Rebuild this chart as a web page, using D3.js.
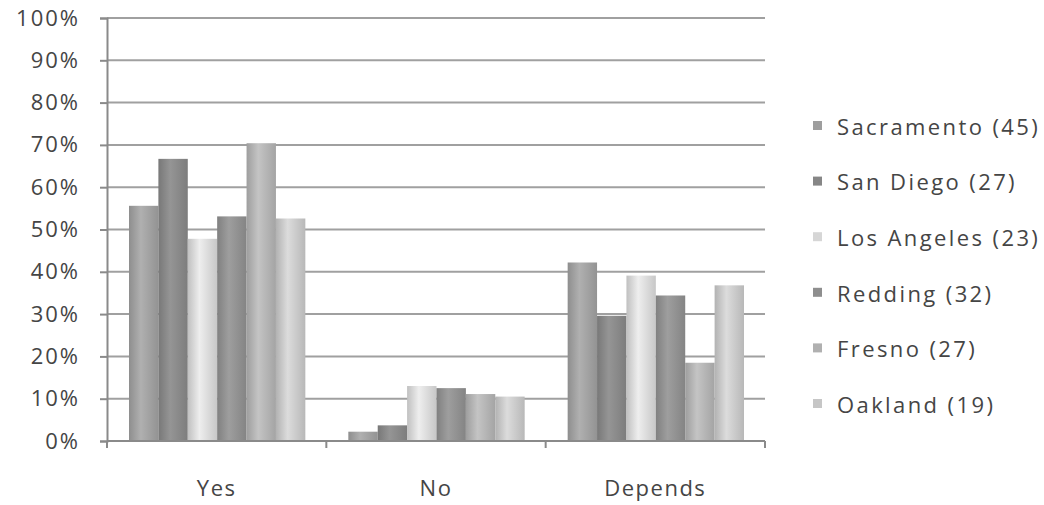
<!DOCTYPE html>
<html><head><meta charset="utf-8">
<script src="https://cdn.jsdelivr.net/npm/d3@7"></script>
<style>body{margin:0;background:#fff}svg{display:block}</style>
</head><body><svg id="c" width="1044" height="505"></svg>
<script>
const categories = ["Yes", "No", "Depends"];
const seriesNames = ["Sacramento (45)", "San Diego (27)", "Los Angeles (23)", "Redding (32)", "Fresno (27)", "Oakland (19)"];
const sacramento = [55.6, 2.2, 42.2];
const sanDiego = [66.7, 3.7, 29.6];
const losAngeles = [47.8, 13.0, 39.1];
const redding = [53.1, 12.5, 34.4];
const fresno = [70.4, 11.1, 18.5];
const oakland = [52.6, 10.5, 36.8];
const seriesValues = [sacramento, sanDiego, losAngeles, redding, fresno, oakland];
const seriesColors = ["#9e9e9e", "#868686", "#d6d6d6", "#8e8e8e", "#b0b0b0", "#c6c6c6"];
const yTicks = [0, 10, 20, 30, 40, 50, 60, 70, 80, 90, 100];

const svg = d3.select("#c");
const L = 107, R = 765, T = 18, B = 441;
const font = "'Open Sans', 'Liberation Sans', sans-serif";
const txt = "#454545";
const fs = 22;

const y = d3.scaleLinear().domain([0, 100]).range([B, T]);
const x0 = d3.scaleBand().domain(categories).range([L, R]).padding(0);
const x1 = d3.scaleBand().domain(seriesNames).range([22, x0.bandwidth() - 21]).padding(0);

const defs = svg.append("defs");
seriesColors.forEach((c, i) => {
  const g = defs.append("linearGradient").attr("id", "g" + i).attr("x1", "0").attr("x2", "1").attr("y1", "0").attr("y2", "0");
  const cc = d3.color(c);
  g.append("stop").attr("offset", "0%").attr("stop-color", cc.darker(0.3));
  g.append("stop").attr("offset", "40%").attr("stop-color", cc.brighter(0.3));
  g.append("stop").attr("offset", "100%").attr("stop-color", cc.darker(0.2));
});

// gridlines
svg.append("g").selectAll("line").data(yTicks.filter(d => d > 0)).join("line")
  .attr("x1", L).attr("x2", R).attr("y1", d => y(d)).attr("y2", d => y(d))
  .attr("stroke", "#a0a0a0").attr("stroke-width", 2);

// bars
const groups = svg.append("g").selectAll("g").data(categories).join("g")
  .attr("transform", d => `translate(${x0(d)},0)`);
groups.selectAll("rect").data((c, ci) => seriesNames.map((s, si) => ({s, si, v: seriesValues[si][ci]})))
  .join("rect")
  .attr("x", d => x1(d.s)).attr("width", x1.bandwidth())
  .attr("y", d => y(d.v)).attr("height", d => B - y(d.v))
  .attr("fill", d => `url(#g${d.si})`);

// y axis
const yAxis = d3.axisLeft(y).tickValues(yTicks).tickFormat(d => d + "%").tickSize(7).tickPadding(20);
const ya = svg.append("g").attr("transform", `translate(${L},0)`).call(yAxis);
ya.select(".domain").attr("stroke", "#8a8a8a").attr("stroke-width", 2);
ya.selectAll(".tick line").attr("stroke", "#8a8a8a").attr("stroke-width", 2);
ya.selectAll("text").attr("font-family", font).attr("font-size", fs).attr("fill", txt).attr("letter-spacing", 2);

// x axis
const xa = svg.append("g").attr("transform", `translate(0,${B})`);
xa.append("line").attr("x1", L).attr("x2", R).attr("y1", 0).attr("y2", 0).attr("stroke", "#8a8a8a").attr("stroke-width", 2);
xa.selectAll("line.t").data(categories.map(c => x0(c)).concat([R])).join("line").attr("class", "t")
  .attr("x1", d => d).attr("x2", d => d).attr("y1", 0).attr("y2", 7).attr("stroke", "#8a8a8a").attr("stroke-width", 2);
xa.selectAll("text").data(categories).join("text")
  .attr("x", d => x0(d) + x0.bandwidth() / 2).attr("y", 55)
  .attr("text-anchor", "middle").attr("font-family", font).attr("font-size", fs).attr("fill", txt)
  .attr("letter-spacing", 1.5).text(d => d);

// legend
const lg = svg.append("g").selectAll("g").data(seriesNames).join("g")
  .attr("transform", (d, i) => `translate(813,${127 + i * 55.6})`);
lg.append("rect").attr("x", 0).attr("y", -6).attr("width", 9).attr("height", 9)
  .attr("fill", (d, i) => seriesColors[i]);
lg.append("text").attr("x", 24).attr("y", 0).attr("dy", "0.35em")
  .attr("font-family", font).attr("font-size", fs).attr("fill", txt)
  .attr("letter-spacing", 2.4).text(d => d);
</script></body></html>
